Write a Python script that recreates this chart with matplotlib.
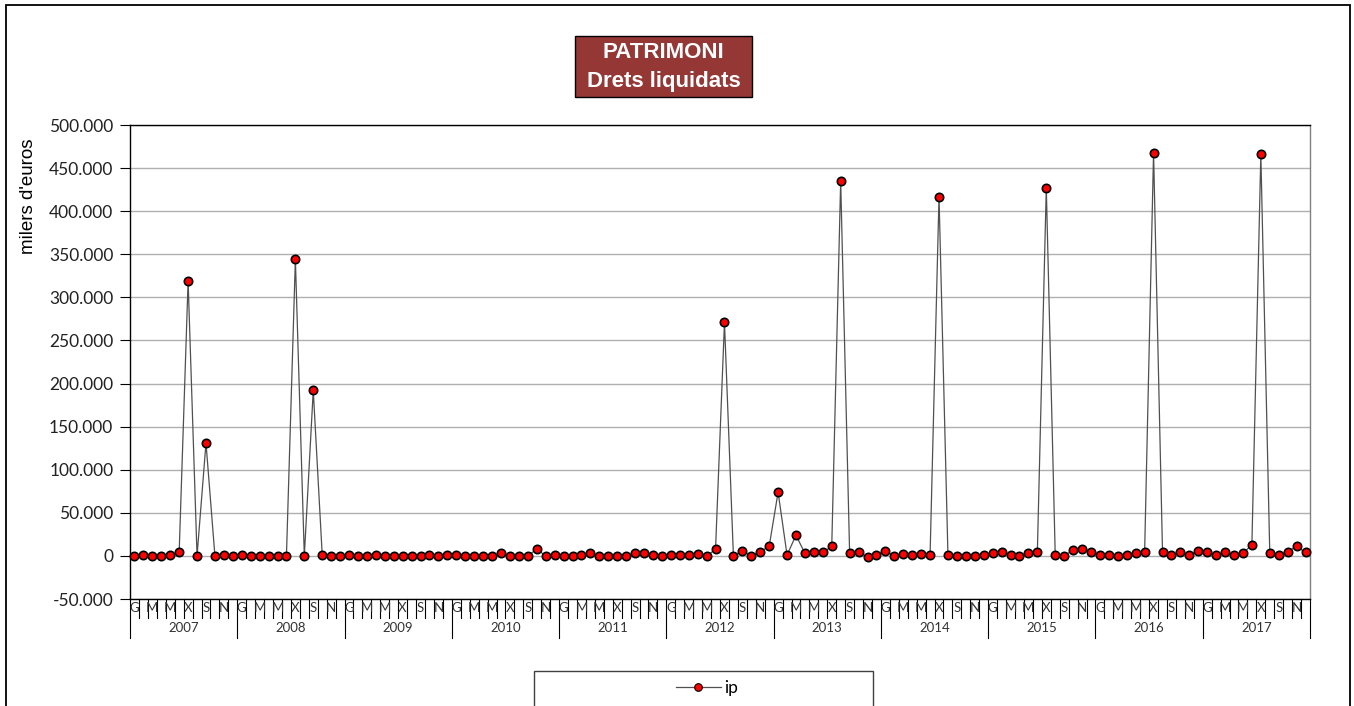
import matplotlib
matplotlib.use("Agg")
import matplotlib.pyplot as plt
from matplotlib.patches import Rectangle
from matplotlib.lines import Line2D
from matplotlib.ticker import FuncFormatter

years = ["2007", "2008", "2009", "2010", "2011", "2012",
         "2013", "2014", "2015", "2016", "2017"]
month_labels = ["G", "", "M", "", "M", "", "X", "", "S", "", "N", ""]

# milers d'euros, one value per month
ip_2007 = [0, 1000, 0, 0, 1500, 4000, 319000, 0, 131000, 0, 1500, 300]
ip_2008 = [1000, 0, 0, 0, 0, 0, 344000, 0, 192000, 1500, 300, 300]
ip_2009 = [1000, 0, 300, 1000, 0, 0, 0, 0, 0, 1000, 0, 1000]
ip_2010 = [1000, 0, 0, 0, 0, 3000, 0, 0, 0, 8000, 0, 1000]
ip_2011 = [0, 0, 1000, 3000, 0, 0, 0, 0, 3500, 3500, 1000, 0]
ip_2012 = [1000, 1000, 1000, 2500, 0, 7500, 271000, 0, 6000, 0, 5000, 11000]
ip_2013 = [74000, 1000, 24000, 3000, 5000, 4000, 11000, 435000, 3000, 4000, -1000, 1000]
ip_2014 = [6000, 0, 2000, 1000, 2000, 1000, 417000, 1000, 0, 0, 0, 1000]
ip_2015 = [3000, 4000, 1000, 0, 3000, 4000, 427000, 1000, 0, 7000, 8500, 5000]
ip_2016 = [1000, 1000, 0, 1000, 3000, 4000, 468000, 5000, 1000, 5000, 1000, 6000]
ip_2017 = [4000, 1000, 4000, 1000, 3000, 13000, 466000, 3000, 1000, 5000, 11000, 4000]

ip = (ip_2007 + ip_2008 + ip_2009 + ip_2010 + ip_2011 + ip_2012
      + ip_2013 + ip_2014 + ip_2015 + ip_2016 + ip_2017)
x = list(range(len(ip)))

W, H = 1354, 706
fig = plt.figure(figsize=(W / 100, H / 100), dpi=100)
fig.patch.set_facecolor("white")


def fx(px):
    return px / W


def fy(py):
    return 1 - py / H


ax = fig.add_axes([fx(130), fy(599), fx(1310) - fx(130), fy(125) - fy(599)])

ax.plot(x, ip, color="#505050", linewidth=0.9, marker="o", markersize=6,
        markerfacecolor="#ff0000", markeredgecolor="black",
        markeredgewidth=1.2, zorder=3, clip_on=False)

ax.set_xlim(-0.5, len(ip) - 0.5)
ax.set_ylim(-50000, 500000)
ax.set_yticks(range(-50000, 500001, 50000))
ax.yaxis.set_major_formatter(
    FuncFormatter(lambda v, p: f"{int(v):,}".replace(",", ".")))
ax.tick_params(axis="y", direction="out", length=7, width=0.8,
               labelsize=12.5, pad=5, colors="black")
for lab in ax.get_yticklabels():
    lab.set_fontfamily("Lato")
    lab.set_color("#222222")
ax.grid(axis="y", color="#b0b0b0", linewidth=1.0)
ax.set_axisbelow(True)
ax.set_xticks([])

for side in ["top", "left", "bottom"]:
    ax.spines[side].set_color("black")
    ax.spines[side].set_linewidth(1.0)
ax.spines["right"].set_color("#808080")
ax.spines["right"].set_linewidth(1.0)

ax.set_ylabel("milers d'euros", fontsize=13.5, fontfamily="Liberation Sans")
ax.yaxis.set_label_coords(-0.079, 0.85)

# multi-level category axis (months / years)
tr = ax.get_xaxis_transform()
row1 = -19 / 474
row2 = -39 / 474
for i in range(len(ip) + 1):
    ypos_end = row2 if i % 12 == 0 else row1
    ax.plot([i - 0.5, i - 0.5], [0, ypos_end], color="black", linewidth=0.8,
            transform=tr, clip_on=False)
for i in range(len(ip)):
    lab = month_labels[i % 12]
    if lab:
        ax.text(i, row1 / 2, lab, transform=tr, ha="center", va="center",
                fontsize=9.5, fontfamily="Lato", color="#333333")
for k, yr in enumerate(years):
    ax.text(k * 12 + 5.5, (row1 + row2) / 2, yr, transform=tr, ha="center",
            va="center", fontsize=9.5, fontfamily="Lato", color="#333333")

# title box
fig.patches.append(Rectangle((fx(575), fy(97)), fx(752) - fx(575),
                             fy(36) - fy(97), transform=fig.transFigure,
                             facecolor="#953735", edgecolor="black",
                             linewidth=1.0))
fig.text(fx(663.5), fy(52), "PATRIMONI", ha="center", va="center",
         color="white", fontsize=16, fontweight="bold",
         fontfamily="Liberation Sans")
fig.text(fx(663.5), fy(81), "Drets liquidats", ha="center", va="center",
         color="white", fontsize=16, fontweight="bold",
         fontfamily="Liberation Sans")

# legend box (cut by the figure edge)
fig.patches.append(Rectangle((fx(534), fy(720)), fx(873) - fx(534),
                             fy(671) - fy(720), transform=fig.transFigure,
                             facecolor="white", edgecolor="#404040",
                             linewidth=1.0))
handle = Line2D([], [], color="#505050", linewidth=0.9, marker="o",
                markersize=5.5, markerfacecolor="#ff0000",
                markeredgecolor="black", markeredgewidth=0.8)
fig.legend([handle], ["ip"], loc="center", bbox_to_anchor=(fx(707), fy(688)),
           frameon=False, handlelength=2.6, handletextpad=0.2,
           prop={"family": "Lato", "size": 12.5})

# outer border
fig.patches.append(Rectangle((fx(6), fy(720)), fx(1350) - fx(6),
                             fy(5) - fy(720), transform=fig.transFigure,
                             facecolor="none", edgecolor="black",
                             linewidth=1.3))

fig.savefig("out.png", dpi=100)
